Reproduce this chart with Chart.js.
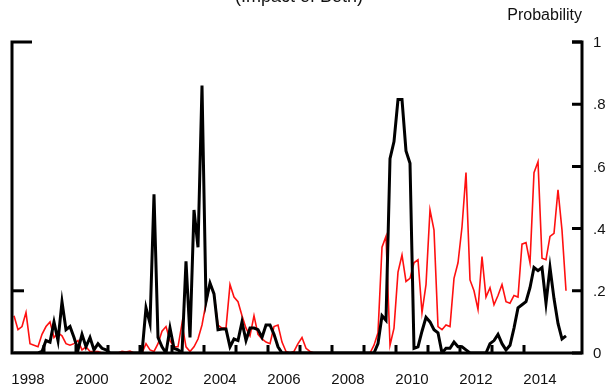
<!DOCTYPE html>
<html>
<head>
<meta charset="utf-8">
<script src="https://cdn.jsdelivr.net/npm/chart.js@4/dist/chart.umd.min.js"></script>
<style>
html,body{margin:0;padding:0;background:#fff;}
canvas{display:block;}
</style>
</head>
<body>
<canvas id="c" width="609" height="388"></canvas>
<script>
// ---- data (8 observations per year, 1998 to early 2015) ----
const years = [1998,1999,2000,2001,2002,2003,2004,2005,2006,2007,2008,2009,2010,2011,2012,2013,2014,2015];
const obsPerYear = 8;
const blackSeries = [
  0,0,0,0,0,0,0,0.005,
  0.04,0.035,0.10,0.04,0.165,0.075,0.085,0.05,
  0.01,0.06,0.02,0.05,0.01,0.03,0.015,0.01,
  0,0,0,0,0,0,0,0,
  0,0.145,0.095,0.51,0.05,0.02,0,0.08,
  0.015,0.01,0,0.295,0.05,0.46,0.34,0.86,
  0.165,0.225,0.19,0.075,0.077,0.077,0.02,0.045,
  0.04,0.10,0.04,0.08,0.08,0.075,0.05,0.09,
  0.09,0.06,0.02,0,0,0,0,0,
  0,0,0,0,0,0,0,0,
  0,0,0,0,0,0,0,0,
  0,0,0,0.03,0.12,0.105,0.625,0.68,
  0.815,0.815,0.65,0.61,0.015,0.02,0.07,0.115,
  0.10,0.075,0.065,0,0.015,0.015,0.035,0.02,
  0.02,0.01,0,0,0,0,0,0.03,
  0.04,0.06,0.03,0.01,0.025,0.08,0.145,0.155,
  0.165,0.21,0.275,0.265,0.275,0.16,0.275,0.175,
  0.095,0.045,0.055
];
const redSeries = [
  0.12,0.075,0.085,0.13,0.03,0.025,0.02,0.06,
  0.085,0.10,0.05,0.065,0.055,0.03,0.025,0.03,
  0.04,0.01,0.02,0.005,0.005,0.005,0,0,
  0,0,0,0.005,0.003,0.006,0,0,
  0,0.03,0.01,0.005,0.03,0.07,0.085,0.04,
  0.02,0.02,0.095,0.02,0.005,0.02,0.045,0.09,
  0.16,0.225,0.19,0.09,0.08,0.08,0.22,0.18,
  0.165,0.12,0.08,0.055,0.12,0.06,0.045,0.035,
  0.03,0.085,0.09,0.035,0.005,0,0.005,0.03,
  0.05,0.015,0.005,0,0,0,0,0,
  0,0,0,0,0,0,0,0,
  0,0,0.025,0.065,0.34,0.375,0.025,0.08,
  0.26,0.315,0.23,0.24,0.29,0.30,0.13,0.22,
  0.46,0.395,0.085,0.075,0.09,0.085,0.24,0.29,
  0.405,0.58,0.235,0.20,0.14,0.31,0.18,0.21,
  0.155,0.185,0.22,0.165,0.16,0.185,0.18,0.35,
  0.355,0.29,0.58,0.615,0.305,0.30,0.375,0.385,
  0.525,0.395,0.20
];
const yTickValues = [0,0.2,0.4,0.6,0.8,1];
const yTickLabels = ["0",".2",".4",".6",".8","1"];
const xLabelYears = [1998,2000,2002,2004,2006,2008,2010,2012,2014];
const xTickYears = [1999,2000,2001,2002,2003,2004,2005,2006,2007,2008,2009,2010,2011,2012,2013,2014];
const axisTitle = "Probability";
const topTitle = "(Impact of Both)";

// observation dates (decimal years)
const dates = [];
years.forEach(y => { for (let k = 0; k < obsPerYear; k++) dates.push(y + (k + 0.5) / obsPerYear); });
const toPts = arr => arr.map((v, i) => ({x: dates[i], y: v}));

const FONT = '"Liberation Sans", Arial, sans-serif';

const axesPlugin = {
  id: 'axesPlugin',
  afterDatasetsDraw(chart) {
    const ctx = chart.ctx;
    const xs = chart.scales.x, ys = chart.scales.y;
    const L = chart.chartArea.left, R = chart.chartArea.right;
    const T = ys.getPixelForValue(1), B = ys.getPixelForValue(0);
    ctx.save();
    ctx.strokeStyle = '#000';
    ctx.lineWidth = 3;
    ctx.lineJoin = 'miter';
    ctx.lineCap = 'butt';
    ctx.beginPath();
    ctx.moveTo(L + 20, T);
    ctx.lineTo(L, T);
    ctx.lineTo(L, B);
    ctx.lineTo(R, B);
    ctx.lineTo(R, T);
    ctx.lineTo(R - 10, T);
    ctx.stroke();
    ctx.beginPath();
    const yl = ys.getPixelForValue(0.2);
    ctx.moveTo(L, yl); ctx.lineTo(L + 12, yl);
    ctx.stroke();
    ctx.beginPath();
    yTickValues.forEach(v => {
      const py = ys.getPixelForValue(v);
      ctx.moveTo(R - 10, py); ctx.lineTo(R, py);
    });
    ctx.stroke();
    ctx.beginPath();
    xTickYears.forEach(yr => {
      const px = xs.getPixelForValue(yr);
      ctx.moveTo(px, B); ctx.lineTo(px, B - 8);
    });
    ctx.stroke();
    ctx.fillStyle = '#111';
    ctx.font = '15px ' + FONT;
    ctx.textAlign = 'left';
    ctx.textBaseline = 'middle';
    yTickValues.forEach((v, i) => {
      ctx.fillText(yTickLabels[i], R + 11, ys.getPixelForValue(v) + 1);
    });
    ctx.textAlign = 'center';
    ctx.textBaseline = 'alphabetic';
    xLabelYears.forEach(yr => {
      ctx.fillText(String(yr), xs.getPixelForValue(yr + 0.5), 384);
    });
    ctx.font = '16px ' + FONT;
    ctx.textAlign = 'right';
    ctx.fillText(axisTitle, R, 20);
    ctx.textAlign = 'center';
    ctx.font = '18px ' + FONT;
    ctx.fillText(topTitle, 299, 2);
    ctx.restore();
  }
};

new Chart(document.getElementById('c'), {
  type: 'line',
  data: {
    datasets: [
      {label: 'black', data: toPts(blackSeries), borderColor: '#000', borderWidth: 3, pointRadius: 0, tension: 0, order: 0},
      {label: 'red', data: toPts(redSeries), borderColor: '#ff1010', borderWidth: 1.6, pointRadius: 0, tension: 0, order: 1}
    ]
  },
  options: {
    responsive: false,
    animation: false,
    events: [],
    layout: {padding: {left: 12, right: 27, top: 42, bottom: 35}},
    plugins: {legend: {display: false}, tooltip: {enabled: false}, title: {display: false}},
    scales: {
      x: {type: 'linear', min: 1998, max: 2015.8125, display: false},
      y: {type: 'linear', min: 0, max: 1, display: false}
    }
  },
  plugins: [axesPlugin]
});
</script>
</body>
</html>
